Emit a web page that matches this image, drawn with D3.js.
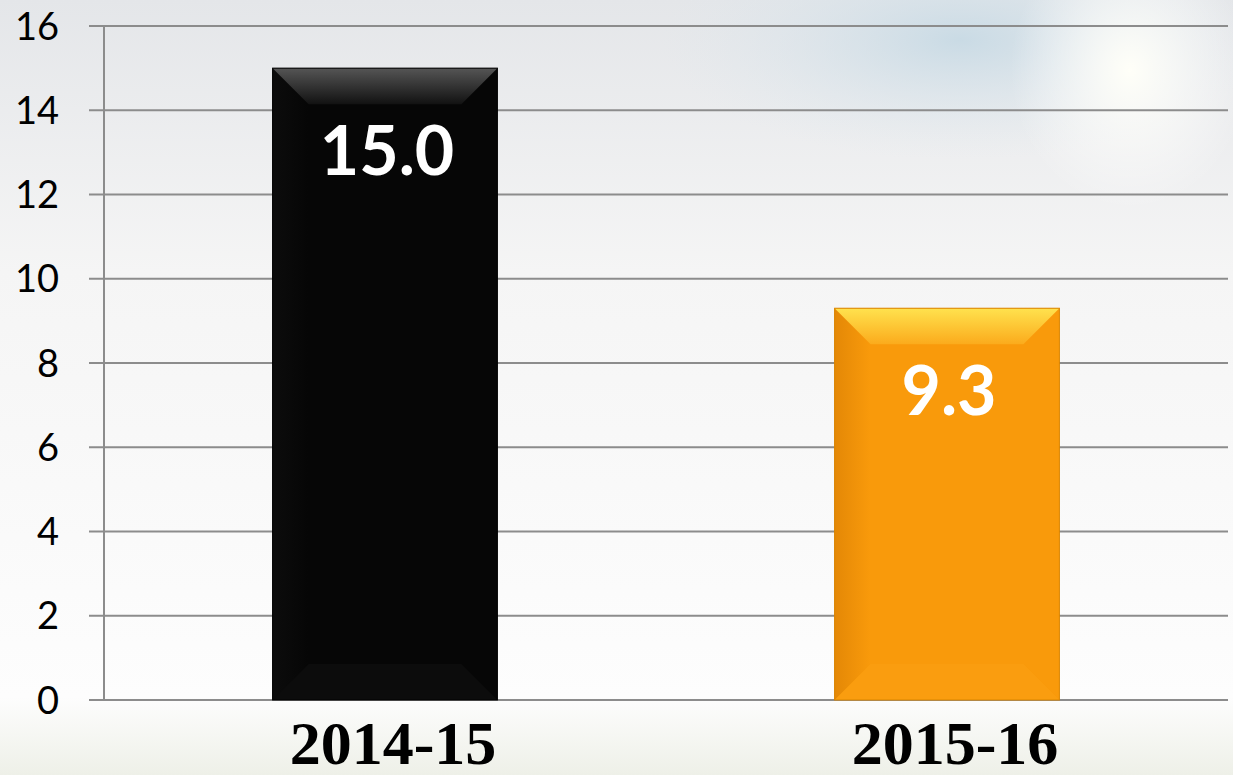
<!DOCTYPE html>
<html>
<head>
<meta charset="utf-8">
<script src="https://cdn.jsdelivr.net/npm/d3@7"></script>
<style>
  html, body { margin: 0; padding: 0; overflow: hidden; }
</style>
</head>
<body>
<script>
// chart data
var years = ["2014-15", "2015-16"];
var values = [15.0, 9.3];
var labels = ["15.0", "9.3"];
var yTicks = [0, 2, 4, 6, 8, 10, 12, 14, 16];

var W = 1233, H = 775;
var plotLeft = 104, plotRight = 1228, plotTop = 26, plotBottom = 700;

var svg = d3.select("body").append("svg")
  .attr("width", W)
  .attr("height", H);

var defs = svg.append("defs");

// background gradients
var bg = defs.append("linearGradient").attr("id", "bg")
  .attr("x1", 0).attr("y1", 0).attr("x2", 0).attr("y2", 1);
bg.append("stop").attr("offset", "0%").attr("stop-color", "#e4e6e9");
bg.append("stop").attr("offset", "35%").attr("stop-color", "#f5f5f5");
bg.append("stop").attr("offset", "90%").attr("stop-color", "#fdfdfd");
bg.append("stop").attr("offset", "100%").attr("stop-color", "#eef0e8");

var glow = defs.append("radialGradient").attr("id", "glow")
  .attr("cx", 0.5).attr("cy", 0.5).attr("r", 0.5);
glow.append("stop").attr("offset", "0%").attr("stop-color", "#c6d9e4").attr("stop-opacity", 0.9);
glow.append("stop").attr("offset", "100%").attr("stop-color", "#dfe8ee").attr("stop-opacity", 0);

var sun = defs.append("radialGradient").attr("id", "sun")
  .attr("cx", 0.5).attr("cy", 0.5).attr("r", 0.5);
sun.append("stop").attr("offset", "0%").attr("stop-color", "#fffff8").attr("stop-opacity", 1);
sun.append("stop").attr("offset", "100%").attr("stop-color", "#ffffff").attr("stop-opacity", 0);

svg.append("rect").attr("width", W).attr("height", H).attr("fill", "url(#bg)");
svg.append("ellipse").attr("cx", 960).attr("cy", 40).attr("rx", 300).attr("ry", 120).attr("fill", "url(#glow)");
svg.append("ellipse").attr("cx", 1130).attr("cy", 70).attr("rx", 120).attr("ry", 140).attr("fill", "url(#sun)");

// bar colour sets: base, top highlight, side shade
var palettes = [
  { base: "#060606", topA: "#555555", topB: "#121212", side: "#0c0c0c", bottom: "#1a1a1a" },
  { base: "#f99a0b", topA: "#ffe24e", topB: "#fbab1c", side: "#e48806", bottom: "#fba41a" }
];

palettes.forEach(function(p, i) {
  var g = defs.append("linearGradient").attr("id", "top" + i)
    .attr("x1", 0).attr("y1", 0).attr("x2", 0).attr("y2", 1);
  g.append("stop").attr("offset", "0%").attr("stop-color", p.topA);
  g.append("stop").attr("offset", "100%").attr("stop-color", p.topB);
  var s = defs.append("linearGradient").attr("id", "left" + i)
    .attr("x1", 0).attr("y1", 0).attr("x2", 1).attr("y2", 0);
  s.append("stop").attr("offset", "0%").attr("stop-color", p.side);
  s.append("stop").attr("offset", "100%").attr("stop-color", p.base);
});

// scales
var x = d3.scaleBand()
  .domain(years)
  .range([plotLeft, plotRight])
  .paddingInner(0.6)
  .paddingOuter(0.3);

var y = d3.scaleLinear()
  .domain([0, 16])
  .range([plotBottom, plotTop]);

// gridlines
svg.append("g")
  .selectAll("line")
  .data(yTicks)
  .enter()
  .append("line")
  .attr("x1", 89)
  .attr("x2", plotRight)
  .attr("y1", function(d) { return y(d); })
  .attr("y2", function(d) { return y(d); })
  .attr("stroke", "#8c8c8c")
  .attr("stroke-width", 2);

// y axis line
svg.append("line")
  .attr("x1", plotLeft).attr("x2", plotLeft)
  .attr("y1", plotTop).attr("y2", plotBottom)
  .attr("stroke", "#8c8c8c")
  .attr("stroke-width", 2);

// y tick labels
svg.append("g")
  .selectAll("text")
  .data(yTicks)
  .enter()
  .append("text")
  .attr("x", 59)
  .attr("y", function(d) { return y(d); })
  .attr("dy", "0.36em")
  .attr("text-anchor", "end")
  .style("font-family", "Lato, 'Open Sans', sans-serif")
  .style("font-size", "38px")
  .style("fill", "#000")
  .text(function(d) { return d; });

// bars with bevel
var bev = 36;
years.forEach(function(yr, i) {
  var p = palettes[i];
  var x0 = x(yr), x1 = x0 + x.bandwidth();
  var y0 = y(values[i]), y1 = y(0);
  var g = svg.append("g");

  g.append("rect")
    .attr("x", x0).attr("y", y0)
    .attr("width", x1 - x0).attr("height", y1 - y0)
    .attr("fill", p.base);

  // left side
  g.append("path")
    .attr("d", "M" + x0 + "," + y0 + "L" + (x0 + bev) + "," + (y0 + bev) +
      "L" + (x0 + bev) + "," + (y1 - bev) + "L" + x0 + "," + y1 + "Z")
    .attr("fill", "url(#left" + i + ")");

  // bottom side
  g.append("path")
    .attr("d", "M" + x0 + "," + y1 + "L" + (x0 + bev) + "," + (y1 - bev) +
      "L" + (x1 - bev) + "," + (y1 - bev) + "L" + x1 + "," + y1 + "Z")
    .attr("fill", p.bottom)
    .attr("opacity", 0.3);

  // top side
  g.append("path")
    .attr("d", "M" + x0 + "," + y0 + "L" + x1 + "," + y0 +
      "L" + (x1 - bev) + "," + (y0 + bev) + "L" + (x0 + bev) + "," + (y0 + bev) + "Z")
    .attr("fill", "url(#top" + i + ")");

  g.append("rect")
    .attr("x", x0).attr("y", y0)
    .attr("width", x1 - x0).attr("height", y1 - y0)
    .attr("fill", "none")
    .attr("stroke", i == 0 ? "#000" : "#d98400")
    .attr("stroke-width", 1);

  // value label
  g.append("text")
    .attr("x", x0 + x.bandwidth() / 2 + 2)
    .attr("y", y0 + 107)
    .attr("text-anchor", "middle")
    .style("font-family", "Lato, 'Open Sans', sans-serif")
    .style("font-weight", "bold")
    .style("font-size", "68px")
    .style("fill", "#fff")
    .text(labels[i]);
});

// category labels
svg.append("g")
  .selectAll("text")
  .data(years)
  .enter()
  .append("text")
  .attr("x", function(d) { return x(d) + x.bandwidth() / 2 + 8; })
  .attr("y", 764)
  .attr("text-anchor", "middle")
  .style("font-family", "'Liberation Serif', 'Times New Roman', serif")
  .style("font-weight", "bold")
  .style("font-size", "62px")
  .style("fill", "#000")
  .text(function(d) { return d; });
</script>
</body>
</html>
